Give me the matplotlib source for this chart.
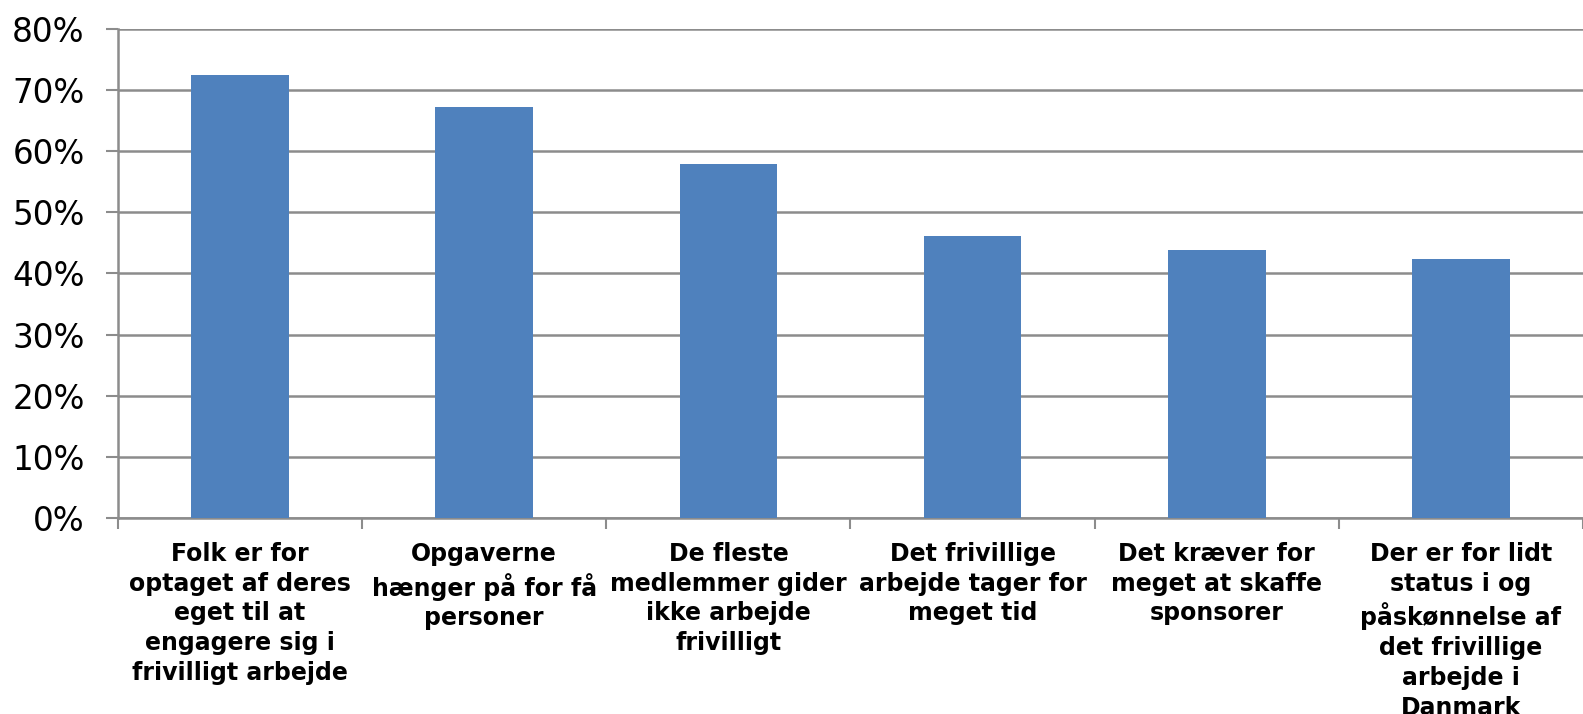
import matplotlib
matplotlib.use("Agg")
import matplotlib.pyplot as plt
import numpy as np

categories = [
    "Folk er for\noptaget af deres\neget til at\nengagere sig i\nfrivilligt arbejde",
    "Opgaverne\nhænger på for få\npersoner",
    "De fleste\nmedlemmer gider\nikke arbejde\nfrivilligt",
    "Det frivillige\narbejde tager for\nmeget tid",
    "Det kræver for\nmeget at skaffe\nsponsorer",
    "Der er for lidt\nstatus i og\npåskønnelse af\ndet frivillige\narbejde i\nDanmark",
]
values = [72.4, 67.2, 57.9, 46.2, 43.9, 42.4]
yticks = [0, 10, 20, 30, 40, 50, 60, 70, 80]
ytick_labels = [f"{v}%" for v in yticks]

bar_color = "#4F81BD"
grid_color = "#8C8C8C"

fig = plt.figure(figsize=(15.83, 7.14), dpi=100)
ax = fig.add_axes([0.0745, 0.274, 0.9255, 0.686])

x = np.arange(len(categories))
ax.bar(x, values, width=0.4, color=bar_color, zorder=3)

ax.set_xlim(-0.5, len(categories) - 0.5)
ax.set_ylim(0, 80)
ax.set_yticks(yticks)
ax.set_yticklabels(ytick_labels, fontsize=23.5, fontfamily="DejaVu Sans")
ax.yaxis.grid(True, color=grid_color, linewidth=1.8, zorder=0)
ax.tick_params(axis="y", length=9, width=1.5, color=grid_color, pad=15)

# category boundary ticks
ax.set_xticks(np.arange(-0.5, len(categories) + 0.5, 1.0))
ax.set_xticklabels([])
ax.tick_params(axis="x", which="major", length=8, width=1.5, color=grid_color, direction="out")
ax.set_xticks(x, categories, minor=True)
ax.tick_params(axis="x", which="minor", length=0, pad=17)
for lbl in ax.get_xticklabels(minor=True):
    lbl.set_fontsize(17)
    lbl.set_fontweight("bold")
    lbl.set_ha("center")
    lbl.set_va("top")
    lbl.set_linespacing(1.3)

for side in ["top", "right"]:
    ax.spines[side].set_visible(False)
for side in ["left", "bottom"]:
    ax.spines[side].set_color(grid_color)
    ax.spines[side].set_linewidth(1.8)

fig.savefig("out.png", dpi=100, facecolor="white")
